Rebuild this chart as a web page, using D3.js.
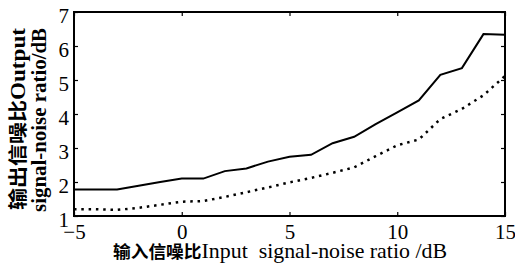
<!DOCTYPE html>
<html>
<head>
<meta charset="utf-8">
<script src="https://cdn.jsdelivr.net/npm/d3@7"></script>
<style>
  body { margin: 0; background: #fff; }
  svg { display: block; }
  .tick text { font-family: 'Liberation Serif', 'Times New Roman', serif; font-size: 21px; }
</style>
</head>
<body>
<div id="main"></div>
<script>
const W = 515, H = 266;
const margin = {left: 74, right: 10, top: 12, bottom: 50};

// input SNR (dB)
const snrIn = [-5, -4, -3, -2, -1, 0, 1, 2, 3, 4, 5, 6, 7, 8, 9, 10, 11, 12, 13, 14, 15];
// output SNR, solid curve
const snrOutSolid = [1.78, 1.78, 1.78, 1.89, 2.0, 2.1, 2.1, 2.32, 2.4, 2.6, 2.74, 2.8, 3.14, 3.33, 3.7, 4.05, 4.4, 5.15, 5.35, 6.35, 6.33];
// output SNR, dotted curve
const snrOutDotted = [1.2, 1.2, 1.18, 1.24, 1.33, 1.42, 1.44, 1.56, 1.7, 1.84, 1.99, 2.12, 2.27, 2.43, 2.76, 3.08, 3.25, 3.85, 4.15, 4.55, 5.12];

const xTicks = [-5, 0, 5, 10, 15];
const yTicks = [1, 2, 3, 4, 5, 6, 7];

const svg = d3.select("#main").append("svg")
    .attr("width", W)
    .attr("height", H);

const x = d3.scaleLinear().domain([-5, 15]).range([margin.left, W - margin.right]);
const y = d3.scaleLinear().domain([1, 7]).range([H - margin.bottom, margin.top]);

const serif = "'Liberation Serif', 'Times New Roman', serif";
const cjk = "'Noto Sans CJK SC', sans-serif";

// axes with inward ticks
const gx = svg.append("g")
    .attr("transform", `translate(0,${y(1)})`)
    .call(d3.axisBottom(x).tickValues(xTicks).tickSize(-4).tickPadding(8).tickFormat(d3.format("d")))
    .attr("font-family", serif)
    .attr("font-size", 21);
gx.selectAll("text").attr("fill", "#000");

const gy = svg.append("g")
    .attr("transform", `translate(${x(-5)},0)`)
    .call(d3.axisLeft(y).tickValues(yTicks).tickSize(-4).tickPadding(5).tickFormat(d3.format("d")))
    .attr("font-family", serif)
    .attr("font-size", 21);
gy.selectAll("text").attr("fill", "#000").attr("dy", "0.5em");

svg.append("g")
    .attr("transform", `translate(0,${y(7)})`)
    .call(d3.axisTop(x).tickValues(xTicks).tickSize(-4).tickFormat(""));
svg.append("g")
    .attr("transform", `translate(${x(15)},0)`)
    .call(d3.axisRight(y).tickValues(yTicks).tickSize(-4).tickFormat(""));

svg.selectAll(".domain").remove();
svg.selectAll(".tick line").attr("stroke", "#000").attr("stroke-width", 1.2);

// frame
svg.append("rect")
    .attr("x", x(-5))
    .attr("y", y(7))
    .attr("width", x(15) - x(-5))
    .attr("height", y(1) - y(7))
    .attr("fill", "none")
    .attr("stroke", "#000")
    .attr("stroke-width", 2);

const line = d3.line()
    .x((d, i) => x(snrIn[i]))
    .y(d => y(d));

svg.append("path")
    .datum(snrOutSolid)
    .attr("d", line)
    .attr("fill", "none")
    .attr("stroke", "#000")
    .attr("stroke-width", 2);

svg.append("path")
    .datum(snrOutDotted)
    .attr("d", line)
    .attr("fill", "none")
    .attr("stroke", "#000")
    .attr("stroke-width", 2.5)
    .attr("stroke-dasharray", "2.5,4.8");

// x title
const xt = svg.append("text")
    .attr("x", 113)
    .attr("y", 258)
    .attr("textLength", 334)
    .attr("lengthAdjust", "spacingAndGlyphs")
    .attr("fill", "#000");
xt.append("tspan").style("font-family", cjk).style("font-size", "17px").style("font-weight", "bold").text("输入信噪比");
xt.append("tspan").style("font-family", serif).style("font-size", "21px").text("Input\u00a0 signal-noise ratio /dB");

// y title, two lines rotated
const yt1 = svg.append("text")
    .attr("transform", "translate(25,210) rotate(-90)")
    .attr("textLength", 182)
    .attr("lengthAdjust", "spacingAndGlyphs")
    .attr("fill", "#000");
yt1.append("tspan").style("font-family", cjk).style("font-size", "19px").style("font-weight", "bold").text("输出信噪比");
yt1.append("tspan").style("font-family", serif).style("font-size", "20px").style("font-weight", "bold").text("Output");

svg.append("text")
    .attr("transform", "translate(46,212) rotate(-90)")
    .attr("textLength", 184)
    .attr("lengthAdjust", "spacingAndGlyphs")
    .style("font-family", serif)
    .style("font-size", "20px")
    .style("font-weight", "bold")
    .attr("fill", "#000")
    .text("signal-noise ratio/dB");
</script>
</body>
</html>
